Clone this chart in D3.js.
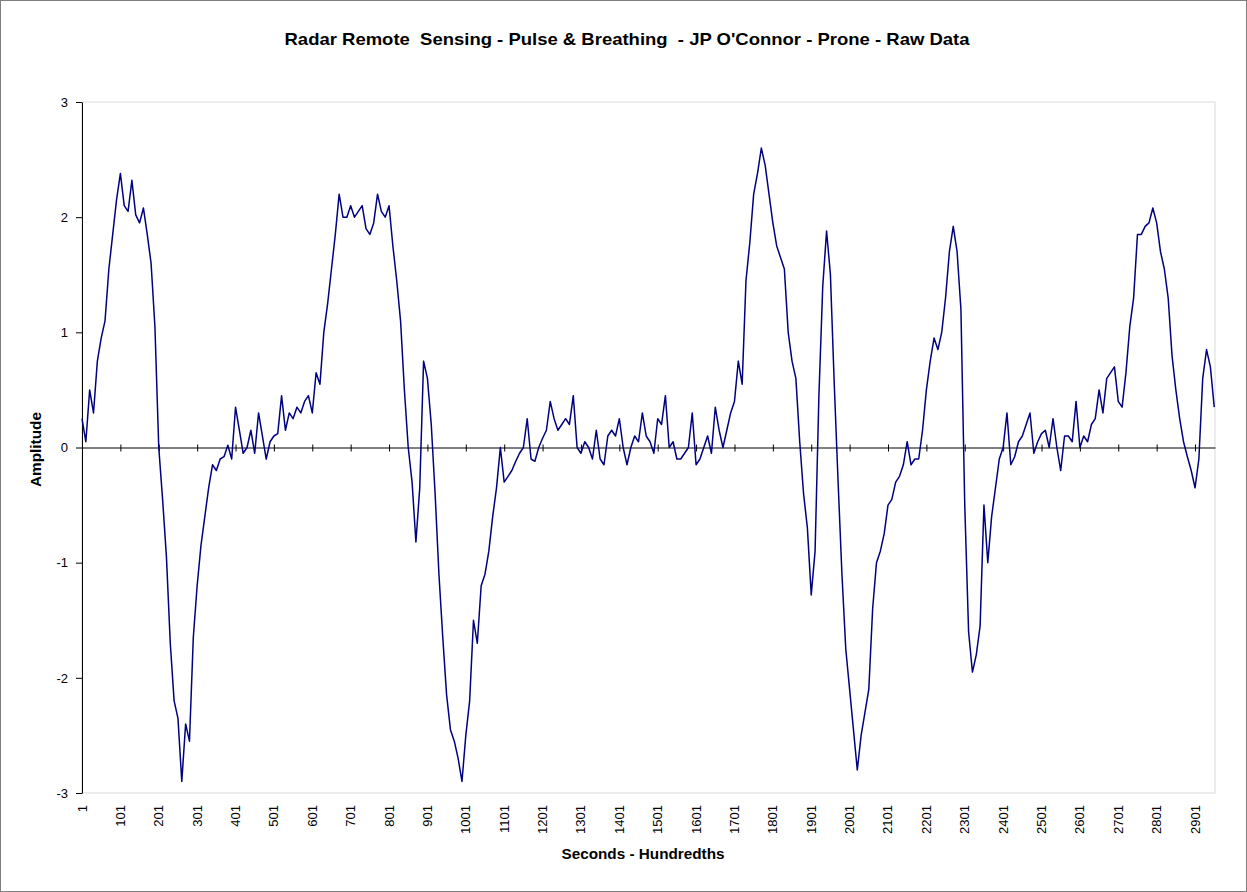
<!DOCTYPE html>
<html lang="en">

<head>
  <meta charset="UTF-8">
  <title>Radar Remote Sensing - Raw Data</title>
  <style>
    body {
      margin: 0;
      background: #fff;
    }

    text {
      font-family: Arial, "Liberation Sans", sans-serif;
      fill: #000;
    }

    .narrow {
      font-family: "Liberation Sans Narrow", "Arial Narrow", Arial, "Liberation Sans", sans-serif;
      font-weight: bold;
    }
  </style>
</head>

<body>
  <div id="chart"></div>

  <script src="https://d3js.org/d3.v7.min.js"></script>
  <script>
    const width = 1247
    const height = 892
    const margin = { top: 102, right: 32, bottom: 99, left: 82 }

    const titleText = "Radar Remote  Sensing - Pulse & Breathing  - JP O'Connor - Prone - Raw Data"
    const xTitle = 'Seconds - Hundredths'
    const yTitle = 'Amplitude'

    // one reading every 10 samples
    const firstSample = 1
    const sampleStep = 10
    const lastSample = 2953
    const amplitude = [
      0.25, 0.05, 0.5, 0.3, 0.75, 0.95, 1.1, 1.55, 1.85, 2.15,
      2.38, 2.1, 2.05, 2.32, 2.02, 1.95, 2.08, 1.85, 1.6, 1.05,
      0.0, -0.45, -0.95, -1.7, -2.2, -2.35, -2.9, -2.4, -2.55, -1.65,
      -1.2, -0.85, -0.6, -0.35, -0.15, -0.2, -0.1, -0.08,
      // 381 -
      0.02, -0.1, 0.35, 0.15, -0.05, 0.0, 0.15, -0.05, 0.3, 0.1,
      -0.1, 0.05, 0.1, 0.12, 0.45, 0.15, 0.3, 0.25, 0.35, 0.3,
      0.4, 0.45, 0.3, 0.65, 0.55, 1.0, 1.25, 1.55, 1.85, 2.2,
      2.0, 2.0, 2.1, 2.0, 2.05, 2.1, 1.9, 1.85,
      // 761 -
      1.95, 2.2, 2.05, 2.0, 2.1, 1.75, 1.45, 1.1, 0.5, 0.0,
      -0.3, -0.82, -0.35, 0.75, 0.6, 0.2, -0.4, -1.1, -1.65, -2.15,
      -2.45, -2.55, -2.7, -2.9, -2.5, -2.2, -1.5, -1.7, -1.2, -1.1,
      -0.9, -0.6, -0.35, 0.0, -0.3, -0.25, -0.2, -0.12,
      // 1141 -
      -0.05, 0.0, 0.25, -0.1, -0.12, 0.0, 0.08, 0.15, 0.4, 0.25,
      0.15, 0.2, 0.25, 0.2, 0.45, 0.0, -0.05, 0.05, 0.0, -0.1,
      0.15, -0.1, -0.15, 0.1, 0.15, 0.1, 0.25, 0.0, -0.15, 0.0,
      0.1, 0.05, 0.3, 0.1, 0.05, -0.05, 0.25, 0.2,
      // 1521 -
      0.45, 0.0, 0.05, -0.1, -0.1, -0.05, 0.0, 0.3, -0.15, -0.1,
      0.0, 0.1, -0.05, 0.35, 0.15, 0.0, 0.15, 0.3, 0.4, 0.75,
      0.55, 1.45, 1.78, 2.2, 2.38, 2.6, 2.45, 2.2, 1.95, 1.75,
      1.65, 1.55, 1.0, 0.75, 0.6, 0.05, -0.4, -0.7,
      // 1901 -
      -1.28, -0.9, 0.45, 1.4, 1.88, 1.5, 0.55, -0.3, -1.1, -1.75,
      -2.1, -2.45, -2.8, -2.5, -2.3, -2.1, -1.4, -1.0, -0.9, -0.75,
      -0.5, -0.45, -0.3, -0.25, -0.15, 0.05, -0.15, -0.1, -0.1, 0.15,
      0.5, 0.75, 0.95, 0.85, 1.0, 1.3, 1.7, 1.92,
      // 2281 -
      1.7, 1.2, -0.5, -1.6, -1.95, -1.8, -1.55, -0.5, -1.0, -0.6,
      -0.35, -0.1, 0.0, 0.3, -0.15, -0.08, 0.05, 0.1, 0.2, 0.3,
      -0.05, 0.05, 0.12, 0.15, 0.0, 0.25, 0.0, -0.2, 0.1, 0.1,
      0.05, 0.4, 0.0, 0.1, 0.05, 0.2, 0.25, 0.5,
      // 2661 -
      0.3, 0.6, 0.65, 0.7, 0.4, 0.35, 0.65, 1.05, 1.3, 1.85,
      1.85, 1.92, 1.95, 2.08, 1.95, 1.7, 1.55, 1.3, 0.8, 0.5,
      0.25, 0.05, -0.08, -0.2, -0.35, -0.1, 0.6, 0.85, 0.7, 0.35
    ]
    const xTickValues = d3.range(1, 3000, 100)
    const yTickValues = [-3, -2, -1, 0, 1, 2, 3]

    const data = amplitude.map((v, k) => ({ n: firstSample + k * sampleStep, v: v }))

    const svg = d3.select('#chart').append('svg')
      .attr('width', width)
      .attr('height', height)

    // chart area border
    svg.append('rect')
      .attr('x', 0.5).attr('y', 0.5)
      .attr('width', width - 1).attr('height', height - 1)
      .attr('fill', '#fff')
      .attr('stroke', '#7f7f7f')

    const x = d3.scaleLinear()
      .domain([firstSample, lastSample])
      .range([margin.left, width - margin.right])

    const y = d3.scaleLinear()
      .domain([-3, 3])
      .range([height - margin.bottom, margin.top])

    // plot area
    svg.append('rect')
      .attr('x', margin.left).attr('y', margin.top)
      .attr('width', width - margin.right - margin.left)
      .attr('height', height - margin.bottom - margin.top)
      .attr('fill', '#fff')
      .attr('stroke', '#d9d9d9')

    // y axis
    const yAxis = svg.append('g')
      .attr('transform', `translate(${margin.left},0)`)
      .call(d3.axisLeft(y)
        .tickValues(yTickValues)
        .tickFormat(d => String(d))
        .tickSize(6).tickPadding(8).tickSizeOuter(0))
    yAxis.select('.domain').attr('stroke', '#000')
    yAxis.selectAll('text').attr('font-size', 13)

    // x axis sits on zero, labels go below the plot
    const xAxis = svg.append('g')
      .attr('transform', `translate(0,${y(0)})`)
      .call(d3.axisBottom(x).tickValues(xTickValues).tickSize(4).tickSizeOuter(0).tickFormat(''))
    xAxis.select('.domain').attr('stroke', '#000')
    xAxis.selectAll('.tick line').attr('y1', -3)

    svg.append('g')
      .selectAll('text')
      .data(xTickValues)
      .join('text')
      .attr('transform', d => `translate(${x(d) + 4.5},${height - margin.bottom + 12}) rotate(-90)`)
      .attr('text-anchor', 'end')
      .attr('font-size', 13)
      .text(d => d)

    // data line
    const line = d3.line()
      .x(d => x(d.n))
      .y(d => y(d.v))

    svg.append('path')
      .datum(data)
      .attr('d', line)
      .attr('fill', 'none')
      .attr('stroke', '#000080')
      .attr('stroke-width', 1.5)
      .attr('stroke-linejoin', 'round')

    // titles
    svg.append('text')
      .attr('class', 'narrow')
      .attr('x', 627).attr('y', 45)
      .attr('text-anchor', 'middle')
      .attr('font-size', 17)
      .attr('textLength', 685)
      .attr('lengthAdjust', 'spacingAndGlyphs')
      .style('white-space', 'pre')
      .text(titleText)

    svg.append('text')
      .attr('class', 'narrow')
      .attr('x', 643).attr('y', 859)
      .attr('text-anchor', 'middle')
      .attr('font-size', 15)
      .attr('textLength', 163)
      .attr('lengthAdjust', 'spacingAndGlyphs')
      .text(xTitle)

    svg.append('text')
      .attr('class', 'narrow')
      .attr('transform', `translate(41,${y(0) + 2}) rotate(-90)`)
      .attr('text-anchor', 'middle')
      .attr('font-size', 15)
      .attr('textLength', 75)
      .attr('lengthAdjust', 'spacingAndGlyphs')
      .text(yTitle)
  </script>
</body>

</html>
